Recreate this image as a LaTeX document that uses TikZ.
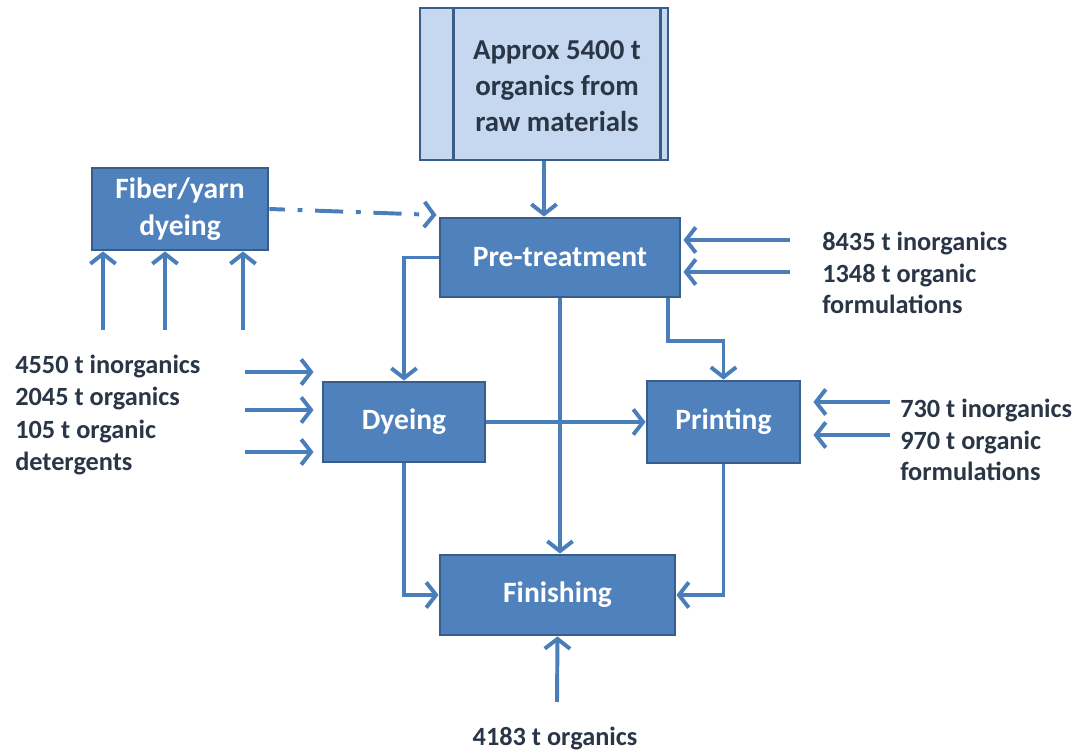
\documentclass[tikz,border=0pt]{standalone}
\usepackage{fontspec}
\setmainfont{Carlito}
\usepackage{xcolor}
\usetikzlibrary{arrows.meta,calc}
\definecolor{boxfill}{HTML}{4F81BD}
\definecolor{boxline}{HTML}{385D8A}
\definecolor{flowcol}{HTML}{4A7EBB}
\definecolor{srcfill}{HTML}{C6D8EF}
\definecolor{txtcol}{HTML}{2A3646}
\tikzset{
  process/.style={
    draw=boxline,
    line width=2pt,
    fill=boxfill,
    text=white,
    inner sep=0pt,
    align=center,
    font=\fontsize{21}{26}\selectfont\bfseries
  },
  source/.style={
    draw=boxline,
    line width=2pt,
    fill=srcfill,
    inner sep=0pt
  },
  sourcetext/.style={
    text=txtcol,
    inner sep=0pt,
    align=center,
    font=\fontsize{20.5}{25.5}\selectfont\bfseries
  },
  amount/.style={
    text=txtcol,
    inner sep=0pt,
    anchor=west,
    align=left,
    font=\fontsize{18.7}{22.5}\selectfont\bfseries
  },
  flow/.style={
    draw=flowcol,
    line width=2.8pt,
    -{Straight Barb[length=7pt,width=18pt]}
  },
  dashflow/.style={
    flow,
    dash pattern=on 20pt off 9pt on 3.5pt off 9pt,
    dash phase=9pt
  }
}
\begin{document}
\begin{tikzpicture}[x=0.025cm,y=-0.025cm]
  \useasboundingbox (0,0) rectangle (1088,753);
  % boxes
  \node[source, minimum width=6.2cm, minimum height=3.8cm] (raw) at (544,84) {};
  \draw[boxline, line width=2pt] ([xshift=0.875cm]raw.north west) -- ([xshift=0.875cm]raw.south west);
  \draw[boxline, line width=2pt] ([xshift=-0.225cm]raw.north east) -- ([xshift=-0.225cm]raw.south east);
  \node[sourcetext] (rawtxt) at (557,86) {Approx 5400 t\\organics from\\raw materials};
  \node[process, minimum width=4.4cm, minimum height=2.05cm] (fib) at (180,209) {Fiber/yarn\\dyeing};
  \node[process, minimum width=6cm, minimum height=1.975cm] (pre) at (560,257.5) {Pre-treatment};
  \node[process, minimum width=4.05cm, minimum height=2cm] (dye) at (404,422) {Dyeing};
  \node[process, minimum width=3.825cm, minimum height=2.05cm] (prt) at (723.5,422) {Printing};
  \node[process, minimum width=5.875cm, minimum height=2cm] (fin) at (557.5,595) {Finishing};

  % amounts
  \node[amount] (inPre) at (822,273) {8435 t inorganics\\1348 t organic\\formulations};
  \node[amount] (inPrt) at (900,440) {730 t inorganics\\970 t organic\\formulations};
  \node[amount, font=\fontsize{18.7}{23.2}\selectfont\bfseries] (inDye) at (15,415) {4550 t inorganics\\2045 t organics\\105 t organic\\detergents};
  \node[amount, anchor=center] (inFin) at (555,739) {4183 t organics};

  % main flows
  \draw[flow] (raw.south) -- (raw.south |- pre.north);
  \draw[dashflow] (fib.east) -- ([xshift=-0.05cm,yshift=0.04cm]pre.north west);
  \draw[flow] (pre.west) -| (dye.north);
  \draw[flow] (pre.south) -- (pre.south |- fin.north);
  \draw[flow] ([xshift=-0.325cm]pre.south east) -- ++(0,43) -| (prt.north);
  \draw[flow] (dye.east) -- (prt.west);
  \draw[flow] (dye.south) |- (fin.west);
  \draw[flow] (prt.south) |- (fin.east);

  % inputs
  \coordinate (f1) at (103,330);
  \coordinate (f2) at (165,330);
  \coordinate (f3) at (243,330);
  \foreach \c in {f1,f2,f3}
    \draw[flow] (\c) -- (\c |- fib.south);
  \coordinate (d1) at (245,372);
  \coordinate (d2) at (245,410);
  \coordinate (d3) at (245,452);
  \foreach \c in {d1,d2,d3}
    \draw[flow, shorten >=0.2cm] (\c) -- (\c -| dye.west);
  \coordinate (p1) at (790,240);
  \coordinate (p2) at (790,272);
  \foreach \c in {p1,p2}
    \draw[flow, shorten >=0.05cm] (\c) -- (\c -| pre.east);
  \coordinate (r1) at (890,402);
  \coordinate (r2) at (890,435);
  \foreach \c in {r1,r2}
    \draw[flow, shorten >=0.3cm] (\c) -- (\c -| prt.east);
  \coordinate (f0) at (557,702);
  \draw[flow] (f0) -- (fin.south);
\end{tikzpicture}
\end{document}
